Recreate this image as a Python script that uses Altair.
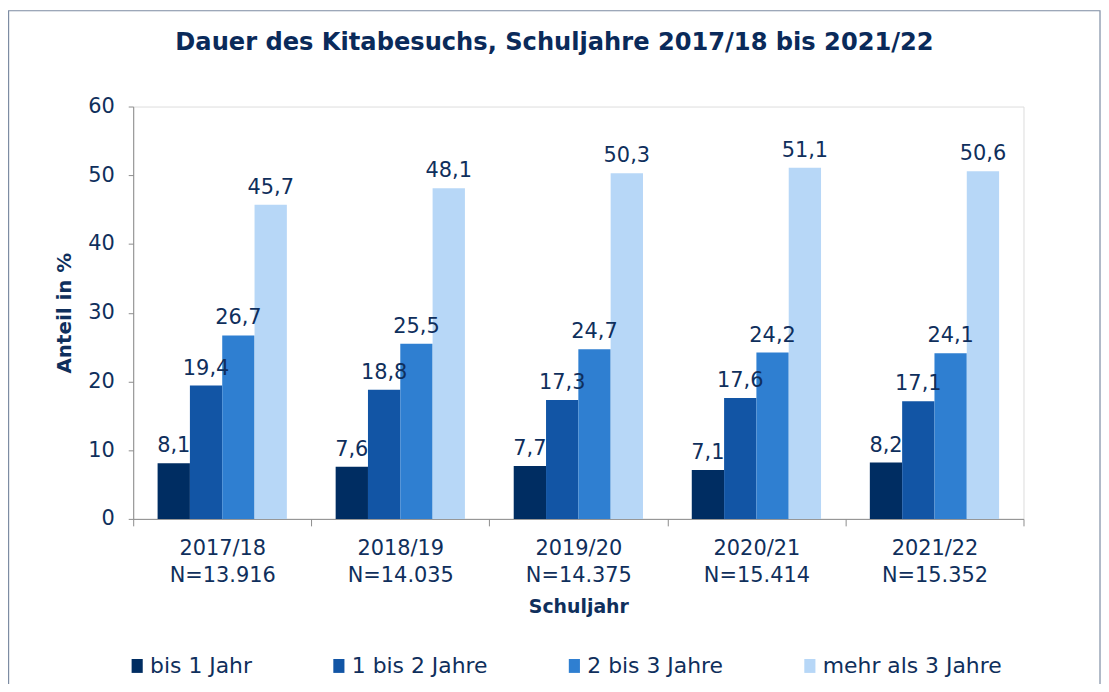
import altair as alt
import pandas as pd

years = ["2017/18", "2018/19", "2019/20", "2020/21", "2021/22"]
ns = ["N=13.916", "N=14.035", "N=14.375", "N=15.414", "N=15.352"]
categories = ["bis 1 Jahr", "1 bis 2 Jahre", "2 bis 3 Jahre", "mehr als 3 Jahre"]
bis_1 = [8.1, 7.6, 7.7, 7.1, 8.2]
von_1_bis_2 = [19.4, 18.8, 17.3, 17.6, 17.1]
von_2_bis_3 = [26.7, 25.5, 24.7, 24.2, 24.1]
mehr_3 = [45.7, 48.1, 50.3, 51.1, 50.6]
colors = ["#002D62", "#1255A5", "#2F7FD1", "#B7D7F7"]

series = [bis_1, von_1_bis_2, von_2_bis_3, mehr_3]
rows = []
for cat, vals in zip(categories, series):
    for y, n, v in zip(years, ns, vals):
        rows.append({"jahr": f"{y}|{n}", "kat": cat, "wert": v,
                     "label": f"{v:.1f}".replace(".", ",")})
df = pd.DataFrame(rows)
cats_x = [f"{y}|{n}" for y, n in zip(years, ns)]

FONT = "DejaVu Sans"
TXT = "#0F2F5C"
AX = "#8C8C8C"

base = alt.Chart(df).encode(
    x=alt.X("jahr:N", sort=cats_x,
            scale=alt.Scale(paddingInner=0, paddingOuter=0),
            axis=alt.Axis(title="Schuljahr", labelAngle=0, tickBand="extent",
                          labelExpr="split(datum.label, '|')", grid=False,
                          labelFontSize=21, labelLineHeight=27, labelColor=TXT,
                          labelFont=FONT, labelPadding=12,
                          domainColor=AX, tickColor=AX, tickSize=7,
                          titleFont=FONT, titleFontSize=19, titleColor=TXT,
                          titleFontWeight="bold", titlePadding=12)),
    xOffset=alt.XOffset("kat:N", sort=categories,
                        scale=alt.Scale(paddingInner=0, paddingOuter=0.755)),
)

bars = base.mark_bar().encode(
    y=alt.Y("wert:Q", scale=alt.Scale(domain=[0, 60]),
            axis=alt.Axis(title="Anteil in %", values=[0, 10, 20, 30, 40, 50, 60],
                          grid=False, labelFontSize=21, labelColor=TXT, labelFont=FONT,
                          labelPadding=14, tickSize=5,
                          domainColor=AX, tickColor=AX,
                          titleFont=FONT, titleFontSize=20, titleColor=TXT,
                          titleFontWeight="bold", titlePadding=13)),
    color=alt.Color("kat:N", sort=categories,
                    scale=alt.Scale(domain=categories, range=colors),
                    legend=alt.Legend(title=None, orient="none", direction="horizontal",
                                      legendX=-7, legendY=552,
                                      symbolType="M-0.8,-1H0.8V1H-0.8Z",
                                      symbolSize=196, symbolStrokeWidth=0,
                                      labelFontSize=22, labelFont=FONT, labelColor=TXT,
                                      labelLimit=400,
                                      columnPadding=76, labelOffset=2)),
)

texts = base.mark_text(baseline="alphabetic", dy=-11, fontSize=21, font=FONT,
                       color=TXT).encode(
    y=alt.Y("wert:Q"),
    text="label:N",
)

frame = alt.Chart(pd.DataFrame({"a": [0]})).mark_rect(
    fill=None, stroke="#7D8CA3", strokeWidth=1.2
).encode(x=alt.value(-125.4), x2=alt.value(973), y=alt.value(-96.4), y2=alt.value(700))

chart = alt.layer(frame, bars, texts).properties(
    width=896, height=415,
    autosize=alt.AutoSizeParams(type="none"),
    padding={"left": 126, "top": 97, "right": 78, "bottom": 164},
    title=alt.TitleParams("Dauer des Kitabesuchs, Schuljahre 2017/18 bis 2021/22",
                          font=FONT, fontSize=24.3, fontWeight="bold", color="#0A2A5A",
                          anchor="middle", frame="group", dx=-24, offset=-45),
).configure_view(stroke="transparent", strokeWidth=0).configure(background="white")

chart.save("out.html", embed_options={"renderer": "svg", "actions": False})
